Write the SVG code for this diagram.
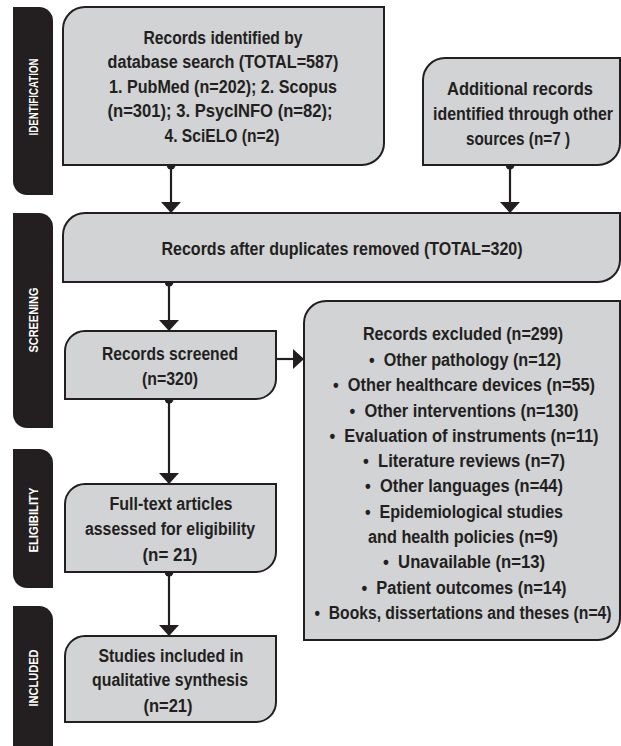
<svg xmlns="http://www.w3.org/2000/svg" width="621" height="746" viewBox="0 0 621 746">
<style>
.bar{fill:#231f20}
.bt{fill:#fff;font-family:"Liberation Sans",Arial,sans-serif;font-weight:bold;font-size:13px;text-anchor:middle}
.box{fill:#d1d3d4;stroke:#231f20;stroke-width:2}
.t{fill:#231f20;font-family:"Liberation Sans",Arial,sans-serif;font-weight:bold;font-size:19px;text-anchor:middle}
.c{stroke:#231f20;stroke-width:2.2;fill:none;marker-start:url(#dot);marker-end:url(#arr)}
</style>
<defs>
<marker id="arr" viewBox="0 0 11 20" refX="11" refY="10" markerWidth="11" markerHeight="20" markerUnits="userSpaceOnUse" orient="auto"><path d="M0,0 L11,10 L0,20 Z" fill="#231f20"/></marker>
<marker id="dot" viewBox="0 0 10 10" refX="5" refY="5" markerWidth="9" markerHeight="9" markerUnits="userSpaceOnUse"><circle cx="5" cy="5" r="5" fill="#231f20"/></marker>
</defs>
<rect width="621" height="746" fill="#fff"/>
<g id="bar-identification"><path class="bar" d="M13,7 H39 A14,14 0 0 1 53,21 V195 H27 A14,14 0 0 1 13,181 Z"/><text class="bt" transform="translate(37.5,97) rotate(-90)" textLength="77" lengthAdjust="spacingAndGlyphs">IDENTIFICATION</text></g>
<g id="bar-screening"><path class="bar" d="M13,213 H39 A14,14 0 0 1 53,227 V428 H27 A14,14 0 0 1 13,414 Z"/><text class="bt" transform="translate(37.5,320) rotate(-90)" textLength="65" lengthAdjust="spacingAndGlyphs">SCREENING</text></g>
<g id="bar-eligibility"><path class="bar" d="M13,449 H39 A14,14 0 0 1 53,463 V588 H27 A14,14 0 0 1 13,574 Z"/><text class="bt" transform="translate(37.5,520) rotate(-90)" textLength="65" lengthAdjust="spacingAndGlyphs">ELIGIBILITY</text></g>
<g id="bar-included"><path class="bar" d="M13,606 H39 A14,14 0 0 1 53,620 V770 H13 Z"/><text class="bt" transform="translate(37.5,678) rotate(-90)" textLength="57" lengthAdjust="spacingAndGlyphs">INCLUDED</text></g>

<g id="connectors">
<line class="c" x1="171" y1="165" x2="171" y2="213"/>
<line class="c" x1="510" y1="165" x2="510" y2="213"/>
<line class="c" x1="169" y1="282" x2="169" y2="331"/>
<line class="c" x1="276" y1="359" x2="304" y2="359" style="marker-start:none"/>
<line class="c" x1="169" y1="399" x2="169" y2="484"/>
<line class="c" x1="169" y1="572" x2="169" y2="636"/>
</g>

<g id="n-database"><path class="box" d="M63,29 A22,22 0 0 1 85,7 H384 V143 A22,22 0 0 1 362,165 H63 Z"/>
<text class="t" transform="translate(223,43.5) scale(0.86,1)" textLength="184.9" lengthAdjust="spacingAndGlyphs">Records identified by</text>
<text class="t" transform="translate(223,68) scale(0.86,1)" textLength="268.6" lengthAdjust="spacingAndGlyphs">database search (TOTAL=587)</text>
<text class="t" transform="translate(223,92.5) scale(0.86,1)" textLength="265.1" lengthAdjust="spacingAndGlyphs">1. PubMed (n=202); 2. Scopus</text>
<text class="t" transform="translate(220,117) scale(0.86,1)" textLength="261.6" lengthAdjust="spacingAndGlyphs">(n=301); 3. PsycINFO (n=82);</text>
<text class="t" transform="translate(222,141.5) scale(0.86,1)" textLength="133.7" lengthAdjust="spacingAndGlyphs">4. SciELO (n=2)</text></g>

<g id="n-additional"><path class="box" d="M423,80 A22,22 0 0 1 445,58 H620 V143 A22,22 0 0 1 598,165 H423 Z"/>
<text class="t" transform="translate(520,94.5) scale(0.86,1)" textLength="169.8" lengthAdjust="spacingAndGlyphs">Additional records</text>
<text class="t" transform="translate(523,119.5) scale(0.86,1)" textLength="209.3" lengthAdjust="spacingAndGlyphs">identified through other</text>
<text class="t" transform="translate(518,144.5) scale(0.86,1)" textLength="120.9" lengthAdjust="spacingAndGlyphs">sources (n=7 )</text></g>

<g id="n-duplicates"><path class="box" d="M63,235 A22,22 0 0 1 85,213 H620 V260 A22,22 0 0 1 598,282 H63 Z"/>
<text class="t" transform="translate(342,254.5) scale(0.86,1)" textLength="419.8" lengthAdjust="spacingAndGlyphs">Records after duplicates removed (TOTAL=320)</text></g>

<g id="n-screened"><path class="box" d="M65,351 A20,20 0 0 1 85,331 H276 V379 A20,20 0 0 1 256,399 H65 Z"/>
<text class="t" transform="translate(170,359.5) scale(0.86,1)" textLength="158.1" lengthAdjust="spacingAndGlyphs">Records screened</text>
<text class="t" transform="translate(170,384.5) scale(0.86,1)" textLength="65.1" lengthAdjust="spacingAndGlyphs">(n=320)</text></g>

<g id="n-excluded"><path class="box" d="M304,323 A22,22 0 0 1 326,301 H620 V618 A22,22 0 0 1 598,640 H304 Z"/>
<text class="t" transform="translate(463,339.5) scale(0.86,1)" textLength="232.6" lengthAdjust="spacingAndGlyphs">Records excluded (n=299)</text>
<text class="t" transform="translate(465,366) scale(0.86,1)" textLength="223.3" lengthAdjust="spacingAndGlyphs">•&#160;&#160;Other pathology (n=12)</text>
<text class="t" transform="translate(464,391) scale(0.86,1)" textLength="304.7" lengthAdjust="spacingAndGlyphs">•&#160;&#160;Other healthcare devices (n=55)</text>
<text class="t" transform="translate(464,416.5) scale(0.86,1)" textLength="266.3" lengthAdjust="spacingAndGlyphs">•&#160;&#160;Other interventions (n=130)</text>
<text class="t" transform="translate(464,441.5) scale(0.86,1)" textLength="312.8" lengthAdjust="spacingAndGlyphs">•&#160;&#160;Evaluation of instruments (n=11)</text>
<text class="t" transform="translate(464,466.5) scale(0.86,1)" textLength="234.9" lengthAdjust="spacingAndGlyphs">•&#160;&#160;Literature reviews (n=7)</text>
<text class="t" transform="translate(464,492) scale(0.86,1)" textLength="230.2" lengthAdjust="spacingAndGlyphs">•&#160;&#160;Other languages (n=44)</text>
<text class="t" transform="translate(464,517.5) scale(0.86,1)" textLength="230.2" lengthAdjust="spacingAndGlyphs">•&#160;&#160;Epidemiological studies</text>
<text class="t" transform="translate(463,543) scale(0.86,1)" textLength="220.9" lengthAdjust="spacingAndGlyphs">and health policies (n=9)</text>
<text class="t" transform="translate(464,568) scale(0.86,1)" textLength="188.4" lengthAdjust="spacingAndGlyphs">•&#160;&#160;Unavailable (n=13)</text>
<text class="t" transform="translate(464,593.5) scale(0.86,1)" textLength="238.4" lengthAdjust="spacingAndGlyphs">•&#160;&#160;Patient outcomes (n=14)</text>
<text class="t" transform="translate(463,618.5) scale(0.79,1)" textLength="375.9" lengthAdjust="spacingAndGlyphs">•&#160;&#160;Books, dissertations and theses (n=4)</text></g>

<g id="n-fulltext"><path class="box" d="M65,504 A20,20 0 0 1 85,484 H276 V552 A20,20 0 0 1 256,572 H65 Z"/>
<text class="t" transform="translate(171,509.5) scale(0.86,1)" textLength="143" lengthAdjust="spacingAndGlyphs">Full-text articles</text>
<text class="t" transform="translate(170,535) scale(0.86,1)" textLength="197.7" lengthAdjust="spacingAndGlyphs">assessed for eligibility</text>
<text class="t" transform="translate(170,560.5) scale(0.86,1)" textLength="64" lengthAdjust="spacingAndGlyphs">(n= 21)</text></g>

<g id="n-included"><path class="box" d="M65,656 A20,20 0 0 1 85,636 H276 V702 A20,20 0 0 1 256,722 H65 Z"/>
<text class="t" transform="translate(171,661.5) scale(0.86,1)" textLength="168.6" lengthAdjust="spacingAndGlyphs">Studies included in</text>
<text class="t" transform="translate(170,685.5) scale(0.86,1)" textLength="181.4" lengthAdjust="spacingAndGlyphs">qualitative synthesis</text>
<text class="t" transform="translate(168,712) scale(0.86,1)" textLength="57" lengthAdjust="spacingAndGlyphs">(n=21)</text></g>
</svg>
